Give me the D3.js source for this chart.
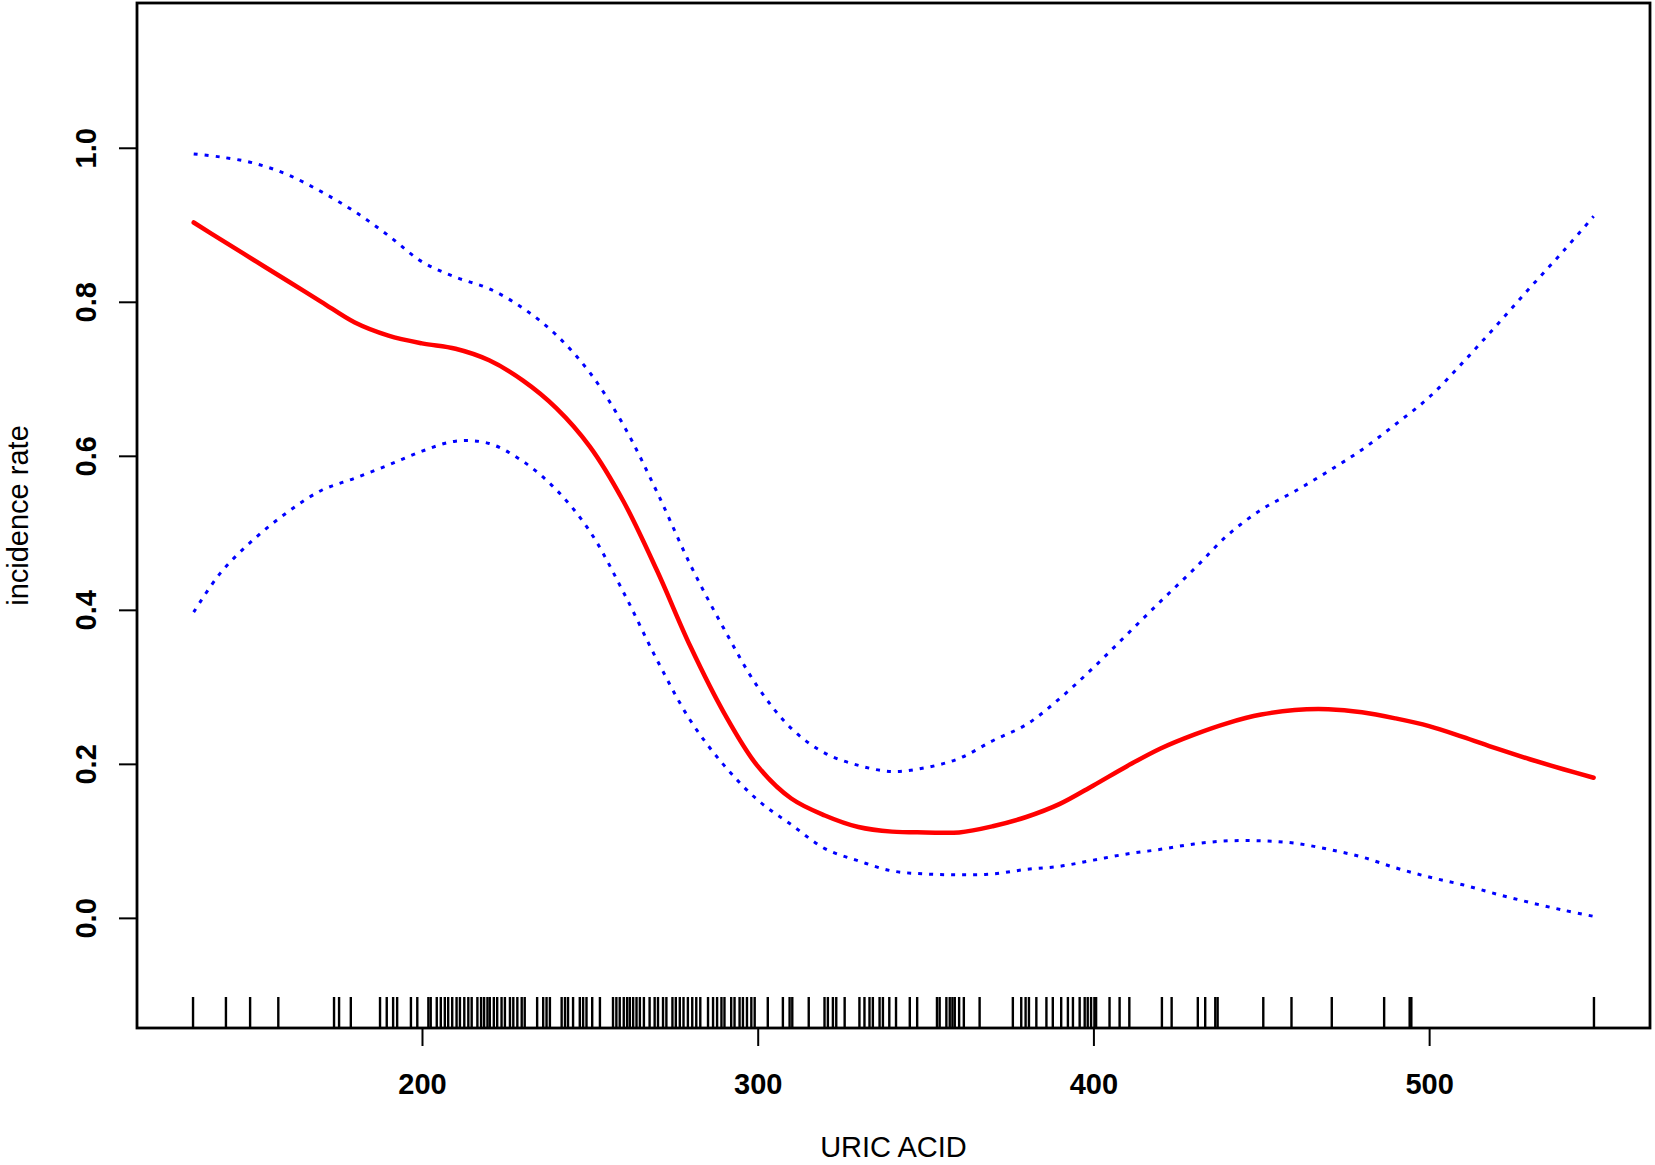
<!DOCTYPE html>
<html>
<head>
<meta charset="utf-8">
<script src="https://cdn.jsdelivr.net/npm/d3@7"></script>
<style>
  html, body { margin: 0; padding: 0; background: #fff; }
  svg { display: block; }
  text { font-family: "Liberation Sans", Arial, sans-serif; fill: #000; }
</style>
</head>
<body>
<svg id="chart" width="1655" height="1165"></svg>
<script>
// ---- data ----
const uricAcid = [132, 140, 150, 160, 170, 180, 190, 200, 210, 220, 230, 240, 250, 260, 270, 280, 290, 300, 310, 320, 330, 340, 350, 360, 370, 380, 390, 400, 410, 420, 430, 440, 450, 460, 470, 480, 490, 500, 510, 520, 530, 540, 549];
const fitRate = [0.903, 0.881, 0.854, 0.827, 0.800, 0.773, 0.756, 0.746, 0.739, 0.724, 0.698, 0.662, 0.612, 0.541, 0.451, 0.352, 0.266, 0.197, 0.155, 0.133, 0.118, 0.112, 0.111, 0.111, 0.119, 0.131, 0.148, 0.172, 0.197, 0.220, 0.238, 0.253, 0.264, 0.270, 0.271, 0.267, 0.259, 0.249, 0.235, 0.220, 0.206, 0.193, 0.182];
const upperCI = [0.992, 0.988, 0.980, 0.965, 0.943, 0.917, 0.886, 0.852, 0.832, 0.817, 0.792, 0.757, 0.708, 0.640, 0.553, 0.458, 0.375, 0.300, 0.246, 0.214, 0.198, 0.190, 0.195, 0.207, 0.230, 0.251, 0.285, 0.325, 0.368, 0.411, 0.453, 0.497, 0.530, 0.554, 0.580, 0.608, 0.641, 0.676, 0.721, 0.769, 0.818, 0.866, 0.911];
const lowerCI = [0.397, 0.448, 0.492, 0.527, 0.555, 0.571, 0.588, 0.606, 0.619, 0.616, 0.593, 0.556, 0.502, 0.423, 0.335, 0.256, 0.198, 0.153, 0.121, 0.090, 0.074, 0.061, 0.057, 0.056, 0.057, 0.063, 0.067, 0.075, 0.083, 0.089, 0.096, 0.100, 0.100, 0.097, 0.089, 0.079, 0.065, 0.053, 0.043, 0.031, 0.020, 0.010, 0.002];
const rugValues = [131.8, 141.6, 148.8, 157.2, 173.8, 175.3, 178.8, 187.5, 189.5, 191.4, 192.6, 196.7, 198.6,
  201.9, 202.6, 204.4, 205.6, 206.8, 207.8, 209.0, 210.3, 211.3, 212.6, 213.8, 214.8, 216.5, 217.6, 218.5, 219.5, 220.2, 221.4, 222.4, 223.7, 224.7, 226.2, 227.2, 228.4, 229.7, 230.6, 234.3, 236.1, 237.1, 238.1, 241.6, 242.6, 243.5, 245.0, 247.0, 248.0, 249.0, 250.7, 253.0, 256.9, 257.9, 258.9, 260.1, 261.1, 261.9, 262.9, 263.9, 264.9, 266.1, 267.8, 269.3, 270.3,
  271.8, 272.8, 274.6, 275.6, 276.8, 277.9, 279.2, 280.5, 281.7, 282.9, 285.2, 286.7, 287.9, 289.2, 290.1, 292.1, 293.1, 294.6, 295.6, 296.8, 298.1, 299.1, 303.0, 307.5, 309.5, 310.3, 315.2, 319.9, 320.9, 322.4, 323.4, 325.9, 330.3, 331.8, 333.3, 334.3, 336.3, 337.3, 339.2, 341.2,
  345.3, 347.5, 353.4, 354.2, 356.2, 357.2, 358.0, 358.7, 360.0, 361.4, 366.1, 376.0, 378.5, 379.8, 380.8, 383.0, 386.0, 387.9, 390.4, 392.4, 393.9, 395.9, 397.4, 398.3, 399.3, 400.3, 400.8, 404.8, 407.8, 410.7,
  420.4, 423.3, 431.1, 433.3, 436.3, 437.0, 450.6, 459.0, 471.0,
  486.6, 494.2, 494.7, 549.1];
const xTicks = [200, 300, 400, 500];
const yTicks = [0.0, 0.2, 0.4, 0.6, 0.8, 1.0];
const xTitle = "URIC ACID";
const yTitle = "incidence rate";

// ---- layout ----
const svg = d3.select("#chart");
const plot = { left: 137, right: 1650, top: 3, bottom: 1028 };

const xPad = (d3.max(rugValues) - d3.min(rugValues)) * 0.04;
const x = d3.scaleLinear()
  .domain([d3.min(rugValues) - xPad, d3.max(rugValues) + xPad])
  .range([plot.left, plot.right]);
const y = d3.scaleLinear()
  .domain([-0.143, 1.188])
  .range([plot.bottom, plot.top]);

const rows = uricAcid.map((u, i) => ({ u, fit: fitRate[i], up: upperCI[i], lo: lowerCI[i] }));

// rug
const rugLen = 31;
svg.append("g").selectAll("line").data(rugValues).join("line")
  .attr("x1", d => x(d)).attr("x2", d => x(d))
  .attr("y1", plot.bottom).attr("y2", plot.bottom - rugLen)
  .attr("stroke", "#000").attr("stroke-width", 2.4);

// CI lines
const mk = key => d3.line().x(d => x(d.u)).y(d => y(d[key])).curve(d3.curveCatmullRom.alpha(0.5));
svg.append("path").datum(rows).attr("d", mk("up"))
  .attr("fill", "none").attr("stroke", "#0000ff").attr("stroke-width", 3)
  .attr("stroke-dasharray", "4,7");
svg.append("path").datum(rows).attr("d", mk("lo"))
  .attr("fill", "none").attr("stroke", "#0000ff").attr("stroke-width", 3)
  .attr("stroke-dasharray", "4,7");
// fit line
svg.append("path").datum(rows).attr("d", mk("fit"))
  .attr("fill", "none").attr("stroke", "#ff0000").attr("stroke-width", 4.5)
  .attr("stroke-linejoin", "round").attr("stroke-linecap", "round");

// box
svg.append("rect")
  .attr("x", plot.left).attr("y", plot.top)
  .attr("width", plot.right - plot.left).attr("height", plot.bottom - plot.top)
  .attr("fill", "none").attr("stroke", "#000").attr("stroke-width", 2.8);

// x axis
const xAxis = d3.axisBottom(x).tickValues(xTicks).tickSize(18).tickPadding(28).tickFormat(d3.format("d"));
const gx = svg.append("g").attr("transform", `translate(0,${plot.bottom})`).call(xAxis);
gx.select(".domain").remove();
gx.selectAll(".tick line").attr("stroke", "#000").attr("stroke-width", 2);
gx.selectAll(".tick text").attr("font-size", 29).attr("font-weight", "bold")
  .attr("font-family", "Liberation Sans, Arial, sans-serif").attr("dy", null).attr("y", 66);

// y axis
const yAxis = d3.axisLeft(y).tickValues(yTicks).tickSize(18).tickFormat(d3.format(".1f"));
const gy = svg.append("g").attr("transform", `translate(${plot.left},0)`).call(yAxis);
gy.select(".domain").remove();
gy.selectAll(".tick line").attr("stroke", "#000").attr("stroke-width", 2);
gy.selectAll(".tick text").attr("font-size", 29).attr("font-weight", "bold")
  .attr("font-family", "Liberation Sans, Arial, sans-serif")
  .attr("x", null).attr("dy", null)
  .attr("text-anchor", "middle")
  .attr("transform", `translate(${96 - plot.left},0) rotate(-90)`);

// titles
svg.append("text").attr("x", (plot.left + plot.right) / 2).attr("y", 1157)
  .attr("text-anchor", "middle").attr("font-size", 29).text(xTitle);
svg.append("text").attr("transform", `translate(28,${(plot.top + plot.bottom) / 2}) rotate(-90)`)
  .attr("text-anchor", "middle").attr("font-size", 29).text(yTitle);
</script>
</body>
</html>
